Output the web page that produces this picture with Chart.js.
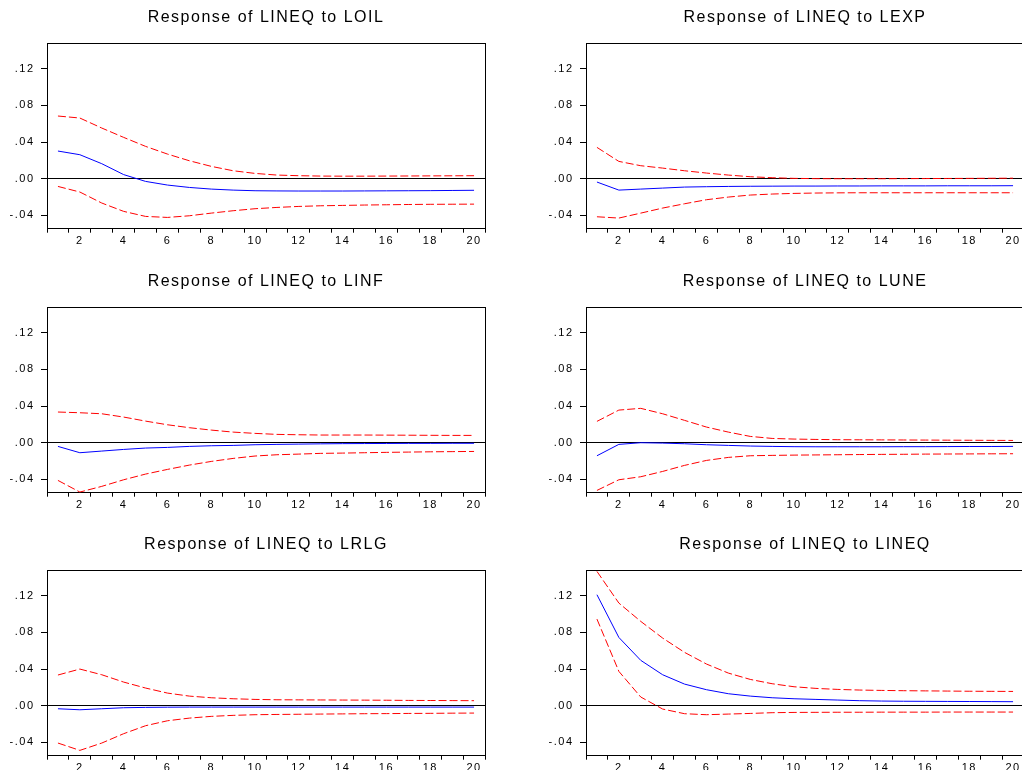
<!DOCTYPE html>
<html>
<head>
<meta charset="utf-8">
<script src="https://cdn.jsdelivr.net/npm/chart.js@4/dist/chart.umd.min.js"></script>
<style>
  html, body { margin: 0; padding: 0; background: #fff; width: 1022px; height: 770px; overflow: hidden; position: relative; }
  canvas { position: absolute; }
</style>
</head>
<body>
<canvas id="c0" width="532" height="264" style="left:0px;top:0px"></canvas>
<canvas id="c1" width="532" height="264" style="left:539px;top:0px"></canvas>
<canvas id="c2" width="532" height="264" style="left:0px;top:264px"></canvas>
<canvas id="c3" width="532" height="264" style="left:539px;top:264px"></canvas>
<canvas id="c4" width="532" height="264" style="left:0px;top:527px"></canvas>
<canvas id="c5" width="532" height="264" style="left:539px;top:527px"></canvas>
<script>
// ---- data ----
const periods = [1,2,3,4,5,6,7,8,9,10,11,12,13,14,15,16,17,18,19,20];
const xTickLabels = ['2','4','6','8','10','12','14','16','18','20'];
const yTickValues = [-0.04, 0, 0.04, 0.08, 0.12];
const yTickLabels = ['-.04', '.00', '.04', '.08', '.12'];
const titles = ['Response of LINEQ to LOIL', 'Response of LINEQ to LEXP', 'Response of LINEQ to LINF',
                'Response of LINEQ to LUNE', 'Response of LINEQ to LRLG', 'Response of LINEQ to LINEQ'];

const respLOIL = [0.0302, 0.0262, 0.0164, 0.0045, -0.0029, -0.0069, -0.0095, -0.0113, -0.0124, -0.0131, -0.0133, -0.0134, -0.0134, -0.0134, -0.0133, -0.0132, -0.0131, -0.0130, -0.0128, -0.0126];
const upLOIL   = [0.0684, 0.0662, 0.0553, 0.0451, 0.0353, 0.0269, 0.0196, 0.0135, 0.0087, 0.0058, 0.0040, 0.0033, 0.0029, 0.0028, 0.0028, 0.0029, 0.0030, 0.0031, 0.0032, 0.0033];
const loLOIL   = [-0.0084, -0.0145, -0.0265, -0.0356, -0.0411, -0.0422, -0.0404, -0.0375, -0.0349, -0.0327, -0.0313, -0.0302, -0.0295, -0.0291, -0.0287, -0.0284, -0.0281, -0.0279, -0.0278, -0.0277];

const respLEXP = [-0.0036, -0.0124, -0.0113, -0.0102, -0.0091, -0.0087, -0.0084, -0.0082, -0.0081, -0.0080, -0.0080, -0.0079, -0.0079, -0.0078, -0.0078, -0.0078, -0.0077, -0.0077, -0.0077, -0.0076];
const upLEXP   = [0.0342, 0.0189, 0.0142, 0.0116, 0.0087, 0.0062, 0.0040, 0.0022, 0.0011, 0.0004, 0.0001, 0.0000, 0.0000, 0.0000, 0.0001, 0.0002, 0.0003, 0.0004, 0.0005, 0.0006];
const loLEXP   = [-0.0415, -0.0429, -0.0375, -0.0320, -0.0273, -0.0229, -0.0200, -0.0178, -0.0167, -0.0160, -0.0156, -0.0154, -0.0153, -0.0153, -0.0153, -0.0153, -0.0153, -0.0153, -0.0153, -0.0153];

const respLINF = [-0.0040, -0.0109, -0.0091, -0.0073, -0.0058, -0.0051, -0.0040, -0.0033, -0.0029, -0.0022, -0.0018, -0.0015, -0.0012, -0.0010, -0.0009, -0.0008, -0.0007, -0.0007, -0.0006, -0.0006];
const upLINF   = [0.0335, 0.0327, 0.0316, 0.0280, 0.0236, 0.0196, 0.0164, 0.0138, 0.0116, 0.0102, 0.0091, 0.0087, 0.0084, 0.0084, 0.0084, 0.0083, 0.0082, 0.0081, 0.0080, 0.0080];
const loLINF   = [-0.0411, -0.0538, -0.0476, -0.0404, -0.0342, -0.0291, -0.0244, -0.0204, -0.0171, -0.0145, -0.0131, -0.0124, -0.0116, -0.0113, -0.0109, -0.0105, -0.0102, -0.0099, -0.0097, -0.0095];

const respLUNE = [-0.0142, -0.0018, 0.0000, -0.0004, -0.0011, -0.0022, -0.0029, -0.0036, -0.0040, -0.0043, -0.0044, -0.0044, -0.0044, -0.0044, -0.0043, -0.0043, -0.0042, -0.0041, -0.0041, -0.0040];
const upLUNE   = [0.0233, 0.0356, 0.0375, 0.0316, 0.0244, 0.0171, 0.0116, 0.0069, 0.0047, 0.0040, 0.0036, 0.0033, 0.0032, 0.0031, 0.0030, 0.0029, 0.0028, 0.0027, 0.0026, 0.0025];
const loLUNE   = [-0.0520, -0.0404, -0.0371, -0.0313, -0.0247, -0.0193, -0.0160, -0.0142, -0.0138, -0.0135, -0.0133, -0.0131, -0.0129, -0.0127, -0.0126, -0.0124, -0.0123, -0.0122, -0.0121, -0.0120];

const respLRLG = [-0.0033, -0.0044, -0.0033, -0.0022, -0.0018, -0.0016, -0.0015, -0.0015, -0.0015, -0.0015, -0.0015, -0.0015, -0.0015, -0.0015, -0.0015, -0.0015, -0.0015, -0.0015, -0.0015, -0.0015];
const upLRLG   = [0.0335, 0.0400, 0.0338, 0.0258, 0.0193, 0.0138, 0.0105, 0.0087, 0.0076, 0.0069, 0.0065, 0.0064, 0.0063, 0.0062, 0.0061, 0.0060, 0.0058, 0.0057, 0.0056, 0.0055];
const loLRLG   = [-0.0407, -0.0487, -0.0407, -0.0305, -0.0218, -0.0164, -0.0135, -0.0116, -0.0105, -0.0098, -0.0095, -0.0093, -0.0091, -0.0089, -0.0087, -0.0086, -0.0084, -0.0083, -0.0081, -0.0080];

const respLINEQ = [0.1211, 0.0745, 0.0495, 0.0338, 0.0236, 0.0175, 0.0131, 0.0105, 0.0087, 0.0076, 0.0069, 0.0062, 0.0055, 0.0051, 0.0049, 0.0048, 0.0047, 0.0046, 0.0045, 0.0044];
const upLINEQ   = [0.1465, 0.1120, 0.0920, 0.0738, 0.0582, 0.0455, 0.0356, 0.0287, 0.0240, 0.0207, 0.0189, 0.0178, 0.0171, 0.0167, 0.0164, 0.0162, 0.0160, 0.0158, 0.0157, 0.0156];
const loLINEQ   = [0.0945, 0.0375, 0.0095, -0.0036, -0.0087, -0.0098, -0.0091, -0.0084, -0.0076, -0.0073, -0.0072, -0.0071, -0.0071, -0.0070, -0.0070, -0.0070, -0.0069, -0.0069, -0.0069, -0.0069];

const panels = [
  [respLOIL, upLOIL, loLOIL],
  [respLEXP, upLEXP, loLEXP],
  [respLINF, upLINF, loLINF],
  [respLUNE, upLUNE, loLUNE],
  [respLRLG, upLRLG, loLRLG],
  [respLINEQ, upLINEQ, loLINEQ]
];

// ---- rendering ----
const FONT = "'Liberation Sans', Arial, Helvetica, sans-serif";
const spacingPlugin = {
  id: 'spacing',
  beforeUpdate(c) { c.ctx.letterSpacing = '1.5px'; },
  beforeDraw(c) { c.ctx.letterSpacing = '1.5px'; }
};

function pts(arr) { return periods.map((p, i) => ({ x: p, y: arr[i] })); }

panels.forEach((p, k) => {
  const [resp, up, lo] = p;
  new Chart(document.getElementById('c' + k), {
    type: 'line',
    data: {
      datasets: [
        { data: pts(up), borderColor: '#FF0000', borderWidth: 1, borderDash: [8, 3], pointRadius: 0, tension: 0, fill: false },
        { data: pts(lo), borderColor: '#FF0000', borderWidth: 1, borderDash: [8, 3], pointRadius: 0, tension: 0, fill: false },
        { data: pts(resp), borderColor: '#0000FF', borderWidth: 1, pointRadius: 0, tension: 0, fill: false }
      ]
    },
    options: {
      responsive: false,
      devicePixelRatio: 1,
      animation: false,
      events: [],
      layout: { padding: 0 },
      plugins: {
        legend: { display: false },
        tooltip: { enabled: false },
        title: {
          display: true,
          text: titles[k],
          color: '#000',
          font: { family: FONT, size: 16, weight: 'normal' },
          padding: { top: 7.5, bottom: 16.8 }
        }
      },
      scales: {
        x: {
          type: 'linear',
          position: 'bottom',
          min: 0.5, max: 20.5,
          afterBuildTicks: s => {
            const t = [];
            for (let v = 0.5; v <= 20.5; v += 0.5) t.push({ value: v });
            s.ticks = t;
          },
          afterFit: s => { s.height = 35.3; },
          grid: {
            display: true,
            drawOnChartArea: false,
            drawTicks: true,
            tickLength: 4,
            tickWidth: 1,
            tickColor: c => (c.tick && !Number.isInteger(c.tick.value)) ? '#000' : 'rgba(0,0,0,0)'
          },
          border: { display: true, color: '#000', width: 1 },
          ticks: {
            autoSkip: false,
            maxRotation: 0,
            padding: 1.5,
            color: '#000',
            font: { family: FONT, size: 11 },
            callback: v => { const s = String(v); return xTickLabels.includes(s) && Number.isInteger(v) ? s : ''; }
          }
        },
        y: {
          type: 'linear',
          position: 'left',
          min: -0.0545, max: 0.1475,
          afterBuildTicks: s => { s.ticks = yTickValues.map(v => ({ value: v })); },
          afterFit: s => { s.width = 47; },
          grid: {
            display: true,
            drawOnChartArea: true,
            drawTicks: true,
            tickLength: 6,
            color: c => (c.tick && Math.abs(c.tick.value) < 1e-9) ? '#000' : 'rgba(0,0,0,0)',
            tickColor: '#000'
          },
          border: { display: true, color: '#000', width: 1 },
          ticks: {
            padding: 6.5,
            color: '#000',
            font: { family: FONT, size: 11 },
            callback: v => { const i = yTickValues.findIndex(t => Math.abs(t - v) < 1e-9); return i >= 0 ? yTickLabels[i] : ''; }
          }
        },
        xTop: {
          type: 'linear', position: 'top', display: true,
          grid: { display: false, drawTicks: false },
          ticks: { display: false },
          border: { display: true, color: '#000', width: 1 }
        },
        yRight: {
          type: 'linear', position: 'right', display: true,
          afterFit: s => { s.width = 47; },
          grid: { display: false, drawTicks: false },
          ticks: { display: false },
          border: { display: true, color: '#000', width: 1 }
        }
      }
    },
    plugins: [spacingPlugin]
  });
});
</script>
</body>
</html>
